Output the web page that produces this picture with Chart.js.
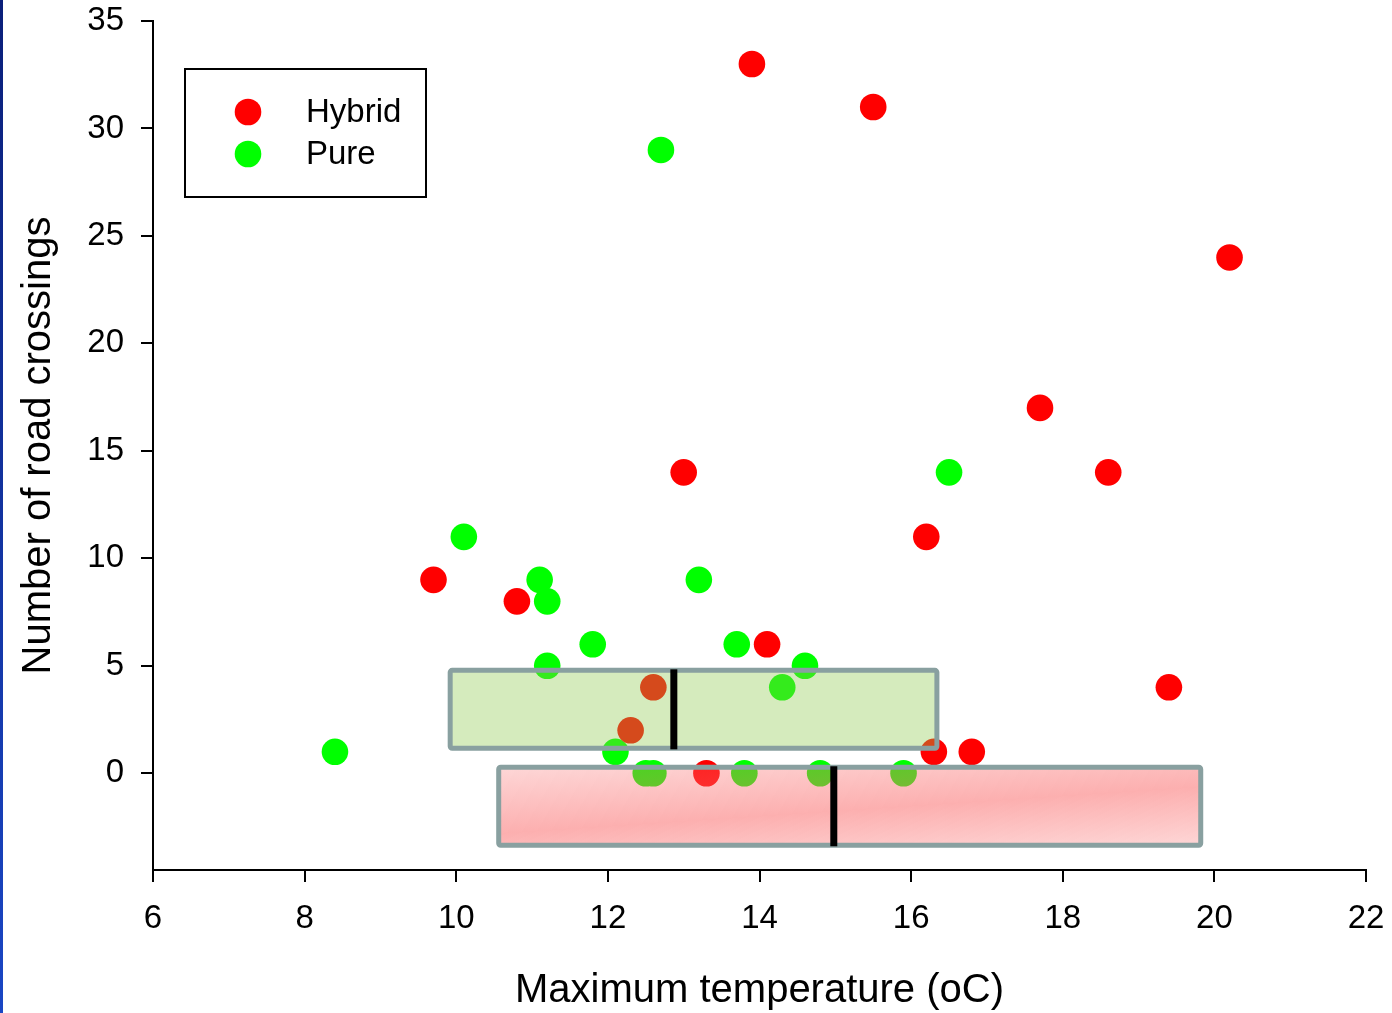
<!DOCTYPE html>
<html lang="en">
<head>
<meta charset="utf-8">
<title>Road crossings vs maximum temperature</title>
<script src="https://cdn.jsdelivr.net/npm/chart.js@4.4.1/dist/chart.umd.min.js"></script>
<style>
  html, body { margin: 0; padding: 0; background: #fff; }
  #wrap { position: relative; width: 1392px; height: 1013px; }
  #edge {
    position: absolute; left: 0; top: 0; width: 3px; height: 1013px;
    background: linear-gradient(#0a1f7a, #1a46c4);
  }
  canvas { display: block; }
</style>
</head>
<body>
<div id="wrap">
  <canvas id="my-chart" width="1392" height="1013"></canvas>
  <div id="edge"></div>
</div>
<script>
'use strict';

// ******* DATA *********
let hybridTemp = [13.9, 15.5, 20.2, 17.7, 18.6, 13.0, 16.2, 9.7, 10.8, 14.1, 19.4, 12.6, 12.3, 16.3, 16.8, 13.3];
let hybridCrossings = [33, 31, 24, 17, 14, 14, 11, 9, 8, 6, 4, 4, 2, 1, 1, 0];

let pureTemp = [12.7, 16.5, 10.1, 11.1, 11.2, 13.2, 11.8, 13.7, 11.2, 14.6, 14.3, 8.4, 12.1, 12.5, 12.6, 13.8, 14.8, 15.9];
let pureCrossings = [29, 14, 11, 9, 8, 9, 6, 6, 5, 5, 4, 1, 1, 0, 0, 0, 0, 0];

// temperature quartiles per group (box = Q1..Q3, bar = median)
let boxGroups = ['Pure', 'Hybrid'];
let boxQ1 = [9.92, 10.56];
let boxMedian = [12.87, 14.98];
let boxQ3 = [16.34, 19.82];

let xTicks = [6, 8, 10, 12, 14, 16, 18, 20, 22];
let yTicks = [0, 5, 10, 15, 20, 25, 30, 35];

// ******* CANVAS *********
let ctx = document.getElementById('my-chart');

const FONT = '"Liberation Sans", Arial, sans-serif';

function toPairs(xs, ys) {
  let out = [];
  for (let i = 0; i < xs.length; i++) {
    out.push({ x: xs[i], y: ys[i] });
  }
  return out;
}

// ****** BOX PLUGIN: translucent quartile boxes over the points ******
let boxPlugin = {
  id: 'quartileBoxes',
  afterDatasetsDraw(chart, args, opts) {
    let c = chart.ctx;
    let xs = chart.scales.x;
    let ys = chart.scales.y;

    for (let i = 0; i < boxGroups.length; i++) {
      let band = opts.bands[boxGroups[i]];
      let x1 = xs.getPixelForValue(boxQ1[i]);
      let x2 = xs.getPixelForValue(boxQ3[i]);
      let xm = xs.getPixelForValue(boxMedian[i]);
      let yTop = ys.getPixelForValue(band[1]);
      let yBot = ys.getPixelForValue(band[0]);

      c.save();
      if (boxGroups[i] === 'Hybrid') {
        let g = c.createLinearGradient(x1, yTop, x1 + 8, yTop + 120);
        g.addColorStop(0, 'rgba(250,110,110,0.28)');
        g.addColorStop(0.55, 'rgba(250,110,110,0.55)');
        g.addColorStop(1, 'rgba(250,110,110,0.30)');
        c.fillStyle = g;
      } else {
        c.fillStyle = 'rgba(140,200,75,0.37)';
      }
      c.beginPath();
      c.roundRect(x1, yTop, x2 - x1, yBot - yTop, 2);
      c.fill();
      c.lineWidth = 5;
      c.strokeStyle = '#89a0a0';
      c.stroke();

      // median bar
      c.beginPath();
      c.lineWidth = 7;
      c.strokeStyle = '#000';
      c.moveTo(xm, yTop - 1);
      c.lineTo(xm, yBot + 1);
      c.stroke();
      c.restore();
    }
  }
};

// ****** LEGEND PLUGIN: framed legend inside the plot ******
let legendPlugin = {
  id: 'boxedLegend',
  afterDraw(chart) {
    let c = chart.ctx;
    let area = chart.chartArea;
    let left = area.left + 32;
    let top = area.top + 48;

    c.save();
    c.lineWidth = 2;
    c.strokeStyle = '#000';
    c.strokeRect(left, top, 241, 128);

    c.font = '33px ' + FONT;
    c.textBaseline = 'middle';
    chart.data.datasets.forEach(function (ds, i) {
      let cy = top + 43 + i * 42;
      c.beginPath();
      c.fillStyle = ds.backgroundColor;
      c.arc(left + 63, cy, 13.3, 0, Math.PI * 2);
      c.fill();
      c.fillStyle = '#000';
      c.fillText(ds.label, left + 121, cy + 1);
    });
    c.restore();
  }
};

let chartObj = {
  type: 'scatter',
  data: {
    datasets: [{
      label: 'Hybrid',
      data: toPairs(hybridTemp, hybridCrossings),
      backgroundColor: '#ff0000',
      borderWidth: 0,
      pointRadius: 13.3
    },
    {
      label: 'Pure',
      data: toPairs(pureTemp, pureCrossings),
      backgroundColor: '#00ff00',
      borderWidth: 0,
      pointRadius: 13.3
    }]
  },
  options: {
    responsive: false,
    devicePixelRatio: 1,
    animation: false,
    events: [],
    layout: { padding: { top: 21, right: 26, left: 0, bottom: 0 } },
    scales: {
      x: {
        type: 'linear',
        min: 6,
        max: 22,
        afterFit(scale) {
          scale.height = 143;
          scale.paddingLeft = 0;
          scale.paddingRight = 0;
        },
        afterBuildTicks(scale) { scale.ticks = xTicks.map(v => ({ value: v })); },
        grid: { drawOnChartArea: false, drawTicks: true, tickLength: 12, color: '#000', lineWidth: 2 },
        border: { display: true, color: '#000', width: 2 },
        ticks: { color: '#000', padding: 17, maxRotation: 0, font: { family: FONT, size: 33 } },
        title: {
          display: true,
          text: 'Maximum temperature (oC)',
          color: '#000',
          padding: { top: 0, bottom: 0 },
          font: { family: FONT, size: 40, lineHeight: 1.1 }
        }
      },
      y: {
        type: 'linear',
        min: -4.5,
        max: 35,
        afterFit(scale) {
          scale.width = 153;
          scale.paddingTop = 0;
          scale.paddingBottom = 0;
        },
        afterBuildTicks(scale) { scale.ticks = yTicks.map(v => ({ value: v })); },
        grid: { drawOnChartArea: false, drawTicks: true, tickLength: 12, color: '#000', lineWidth: 2 },
        border: { display: true, color: '#000', width: 2 },
        ticks: { color: '#000', padding: 17, font: { family: FONT, size: 33 } },
        title: {
          display: true,
          text: 'Number of road crossings',
          color: '#000',
          padding: { top: 15, bottom: 0 },
          font: { family: FONT, size: 40, lineHeight: 1.2 }
        }
      }
    },
    plugins: {
      legend: { display: false },
      tooltip: { enabled: false },
      quartileBoxes: {
        // vertical band (in crossing units) each box occupies
        bands: { Pure: [1.16, 4.79], Hybrid: [-3.35, 0.28] }
      }
    }
  },
  plugins: [boxPlugin, legendPlugin]
};

new Chart(ctx, chartObj); //eslint-disable-line
</script>
</body>
</html>
